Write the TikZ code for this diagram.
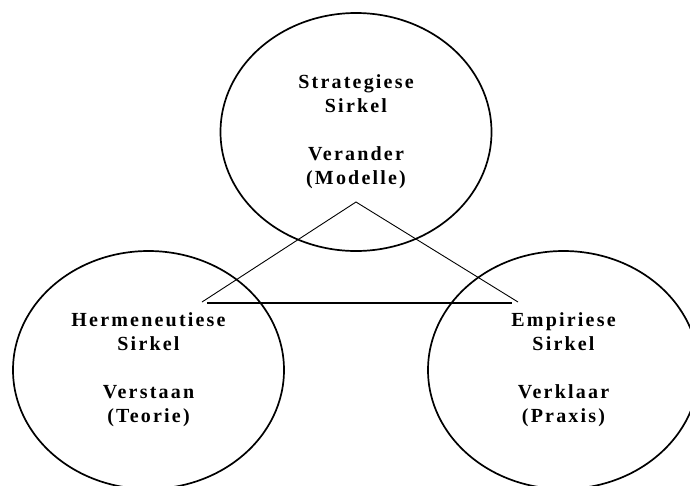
\documentclass[tikz,border=0pt]{standalone}
\usepackage{fontspec}
\setmainfont{Liberation Serif}
\newfontfamily\lblfont[LetterSpace=11]{Liberation Serif}
\usetikzlibrary{shapes.geometric}
\tikzset{
  circ/.style={draw=black, line width=1.7pt, ellipse, minimum width=271pt, minimum height=238pt, inner sep=0pt,
    align=center, font=\lblfont\bfseries\fontsize{20}{24}\selectfont},
  thinline/.style={line width=0.9pt},
  baseline/.style={line width=2pt}
}
\begin{document}
\begin{tikzpicture}[x=1pt,y=-1pt]
\useasboundingbox (0,0) rectangle (690,485);
\node[circ] (top) at (356,132) {Strategiese\\Sirkel\\[24pt]Verander\\(Modelle)};
\node[circ] (left) at (148.5,370) {Hermeneutiese\\Sirkel\\[24pt]Verstaan\\(Teorie)};
\node[circ] (right) at (563.5,370) {Empiriese\\Sirkel\\[24pt]Verklaar\\(Praxis)};
\coordinate (apex) at (356,202);
\coordinate (tl) at (202,302);
\coordinate (tr) at (518,302);
\coordinate (bl) at (207,303);
\coordinate (br) at (512,303);
\draw[thinline] (tl) -- (apex) -- (tr);
\draw[baseline] (bl) -- (br);
\end{tikzpicture}
\end{document}
